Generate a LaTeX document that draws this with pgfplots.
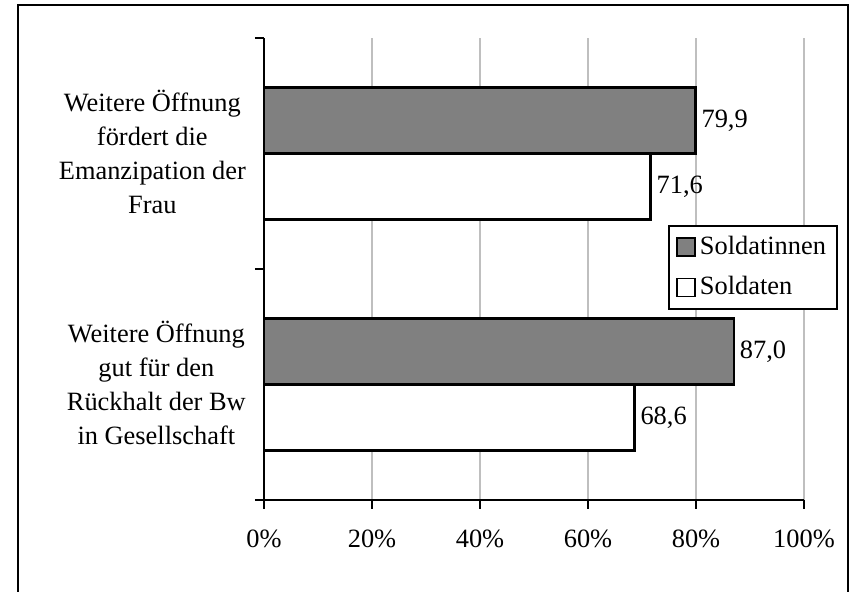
\documentclass[border=0pt]{standalone}
\usepackage{fontspec}
\setmainfont{Liberation Serif}
\usepackage{pgfplots}
\pgfplotsset{compat=1.18}
\pgfplotsset{sqlegend/.style={legend image code/.code={\draw[##1,line width=0.8pt] (0pt,-4.5pt) rectangle (9pt,4.5pt);}}}
\begin{document}
\fontsize{13.2pt}{17pt}\selectfont
\begin{tikzpicture}
\useasboundingbox (-132pt,-46pt) rectangle (294pt,250pt);
\begin{axis}[
  scale only axis, width=270pt, height=231pt,
  xmin=0, xmax=100, ymin=0, ymax=2,
  clip=false,
  axis x line*=bottom, axis y line*=left,
  axis line style={line width=1pt, black, -},
  /pgf/number format/assume math mode=true,
  xtick={0,20,40,60,80,100},
  xticklabel={\pgfmathprintnumber{\tick}\%},
  xticklabel style={yshift=-6pt},
  ytick={0.5,1.5},
  yticklabels={{Weitere Öffnung\\gut für den\\Rückhalt der Bw\\in Gesellschaft},{Weitere Öffnung\\fördert die\\Emanzipation der\\Frau}},
  yticklabel style={align=center, yshift=1pt},
  minor ytick={0,1,2},
  tick align=outside,
  major tick length=4.5pt, minor tick length=4.5pt,
  major y tick style={draw=none},
  minor y tick style={line width=1pt, black},
  major x tick style={line width=1pt, black},
  xmajorgrids,
  major x grid style={line width=1pt, black!25},
  legend style={at={(axis description cs:1.063,0.595)}, anchor=north east,
    draw=black, line width=1pt, fill=white, inner xsep=3.5pt, inner ysep=3pt,
    row sep=5pt, cells={anchor=west}},
]
\addplot[xbar, bar width=33pt, bar shift=0pt, fill=black!50, draw=black, line width=1.3pt,
  point meta=x, nodes near coords={\pgfmathprintnumber[fixed,fixed zerofill,precision=1,use comma]{\pgfplotspointmeta}},
  nodes near coords style={anchor=west, black, xshift=-2pt}, sqlegend]
  coordinates {(87.0,0.642857) (79.9,1.642857)};
\addlegendentry{Soldatinnen}
\addplot[xbar, bar width=33pt, bar shift=0pt, fill=white, draw=black, line width=1.3pt,
  point meta=x, nodes near coords={\pgfmathprintnumber[fixed,fixed zerofill,precision=1,use comma]{\pgfplotspointmeta}},
  nodes near coords style={anchor=west, black, xshift=-2pt}, sqlegend]
  coordinates {(68.6,0.357143) (71.6,1.357143)};
\addlegendentry{Soldaten}
\end{axis}
\draw[line width=1pt] (-123pt,-47pt) -- (-123pt,247.5pt) -- (292pt,247.5pt) -- (292pt,-47pt);
\end{tikzpicture}
\end{document}
